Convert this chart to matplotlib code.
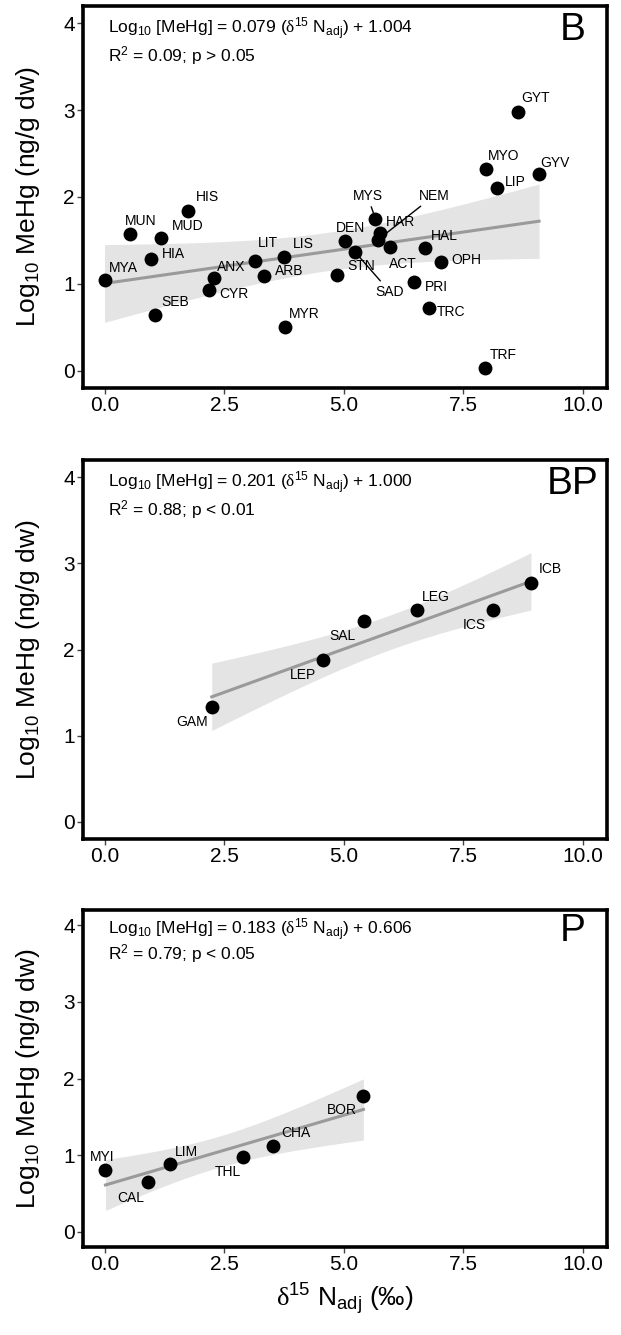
import math
import numpy as np
import matplotlib
matplotlib.use('Agg')
import matplotlib.pyplot as plt

plt.rcParams['font.family'] = 'Liberation Sans'
plt.rcParams['mathtext.fontset'] = 'custom'
plt.rcParams['mathtext.rm'] = 'Liberation Sans'
plt.rcParams['mathtext.it'] = 'Liberation Sans:italic'
plt.rcParams['mathtext.sf'] = 'Liberation Serif'
plt.rcParams['mathtext.default'] = 'regular'

# panel B
b_names = ['MYA', 'SEB', 'HIA', 'MUN', 'MUD', 'HIS', 'ANX', 'CYR', 'LIT', 'ARB',
           'LIS', 'MYR', 'STN', 'DEN', 'SAD', 'MYS', 'HAR', 'NEM', 'ACT', 'HAL',
           'OPH', 'PRI', 'TRC', 'TRF', 'LIP', 'GYT', 'MYO', 'GYV']
b_x = [0.00, 1.06, 0.97, 0.54, 1.19, 1.75, 2.29, 2.19, 3.14, 3.33,
       3.75, 3.77, 4.86, 5.03, 5.23, 5.66, 5.75, 5.72, 5.97, 6.70,
       7.03, 6.46, 6.79, 7.95, 8.21, 8.65, 7.98, 9.08]
b_y = [1.04, 0.64, 1.29, 1.57, 1.53, 1.84, 1.07, 0.93, 1.26, 1.09,
       1.31, 0.50, 1.10, 1.49, 1.37, 1.75, 1.59, 1.51, 1.42, 1.41,
       1.25, 1.02, 0.72, 0.03, 2.10, 2.98, 2.32, 2.27]

# panel BP
bp_names = ['GAM', 'LEP', 'SAL', 'LEG', 'ICS', 'ICB']
bp_x = [2.24, 4.56, 5.42, 6.53, 8.12, 8.91]
bp_y = [1.33, 1.88, 2.33, 2.46, 2.46, 2.77]

# panel P
p_names = ['MYI', 'CAL', 'LIM', 'THL', 'CHA', 'BOR']
p_x = [0.02, 0.91, 1.37, 2.90, 3.53, 5.41]
p_y = [0.81, 0.65, 0.89, 0.98, 1.12, 1.77]

slopes = [0.079, 0.201, 0.183]
intercepts = [1.004, 1.000, 0.606]
r2_txt = ['R$^2$ = 0.09; p > 0.05', 'R$^2$ = 0.88; p < 0.01', 'R$^2$ = 0.79; p < 0.05']
tags = ['B', 'BP', 'P']

# label offsets (pixels)
b_off = [(19, 12), (20, 13), (22, 5), (10, 13), (26, 12), (19, 14), (17, 11), (25, -4),
         (13, 18), (25, 5), (19, 13), (19, 13), (24, 9), (5, 13), (35, -40), (-8, 23),
         (21, 11), (56, 44), (13, -17), (19, 12), (25, 2), (23, -5), (22, -4), (18, 13),
         (18, 6), (17, 14), (17, 13), (16, 11)]
bp_off = [(-20, -15), (-20, -15), (-21, -15), (19, 13), (-19, -15), (19, 14)]
p_off = [(-3, 13), (-17, -16), (16, 12), (-15, -15), (22, 13), (-22, -14)]
seg_names = ['SAD', 'MYS', 'NEM']


def tcrit(df):
    # two sided 95% quantile of Student t by bisection
    c = math.gamma((df + 1) / 2) / (math.sqrt(df * math.pi) * math.gamma(df / 2))
    def cdf(t):
        u = np.linspace(0, t, 2001)
        f = c * (1 + u ** 2 / df) ** (-(df + 1) / 2)
        return 0.5 + np.trapezoid(f, u)
    lo, hi = 0.0, 20.0
    for _ in range(60):
        mid = (lo + hi) / 2
        if cdf(mid) < 0.975:
            lo = mid
        else:
            hi = mid
    return lo


def panel(ax, names, xs, ys, offs, k):
    x = np.array(xs)
    y = np.array(ys)
    xx = np.linspace(x.min(), x.max(), 200)
    fit = slopes[k] * xx + intercepts[k]
    res = y - (slopes[k] * x + intercepts[k])
    n = len(x)
    s = np.sqrt((res ** 2).sum() / (n - 2))
    se = s * np.sqrt(1 / n + (xx - x.mean()) ** 2 / ((x - x.mean()) ** 2).sum())
    t = tcrit(n - 2)
    ax.fill_between(xx, fit - t * se, fit + t * se, color='#e4e4e4', lw=0, zorder=1)
    ax.plot(xx, fit, color='#9a9a9a', lw=2.2, zorder=2)
    ax.scatter(x, y, s=100, c='black', lw=0, zorder=3)
    for nm, xi, yi, o in zip(names, x, y, offs):
        if nm in seg_names:
            ax.annotate(nm, (xi, yi), xytext=o, textcoords='offset pixels',
                        ha='center', va='center', fontsize=10, zorder=4,
                        arrowprops=dict(arrowstyle='-', color='black', lw=1,
                                        shrinkA=1, shrinkB=4))
        else:
            ax.annotate(nm, (xi, yi), xytext=o, textcoords='offset pixels',
                        ha='center', va='center', fontsize=10, zorder=4)
    eq = ('Log$_{10}$ [MeHg] = %.3f ($\\mathsf{δ}^{15}$ N$_{adj}$) + %.3f'
          % (slopes[k], intercepts[k]))
    ax.text(0.08, 3.94, eq, fontsize=12.5, ha='left', va='center')
    ax.text(0.08, 3.63, r2_txt[k], fontsize=12.5, ha='left', va='center')
    ax.text(0.934, 0.937, tags[k], transform=ax.transAxes, fontsize=28,
            ha='center', va='center')
    ax.set_xlim(-0.45, 10.5)
    ax.set_ylim(-0.2, 4.2)
    ax.set_xticks([0, 2.5, 5, 7.5, 10])
    ax.set_xticklabels(['0.0', '2.5', '5.0', '7.5', '10.0'])
    ax.set_yticks([0, 1, 2, 3, 4])
    ax.tick_params(direction='out', length=4, width=1, color='#444444',
                   labelsize=15, pad=2, labelcolor='black')
    for sp in ax.spines.values():
        sp.set_linewidth(2.6)
        sp.set_color('black')
    ax.set_ylabel('Log$_{10}$ MeHg (ng/g dw)', fontsize=19)
    ax.yaxis.set_label_coords(-0.078, 0.5)


fig = plt.figure(figsize=(6.21, 13.35), dpi=100)
L = 83 / 621
W = (607 - 83) / 621
ax1 = fig.add_axes([L, 1 - 388 / 1335, W, (388 - 6) / 1335])
ax2 = fig.add_axes([L, 1 - 839 / 1335, W, (839 - 460) / 1335])
ax3 = fig.add_axes([L, 1 - 1247 / 1335, W, (1247 - 910) / 1335])

panel(ax1, b_names, b_x, b_y, b_off, 0)
panel(ax2, bp_names, bp_x, bp_y, bp_off, 1)
panel(ax3, p_names, p_x, p_y, p_off, 2)
ax3.set_xlabel('$\\mathsf{δ}^{15}$ N$_{adj}$ (‰)', fontsize=19, labelpad=5)

fig.savefig('out.png', dpi=100)
